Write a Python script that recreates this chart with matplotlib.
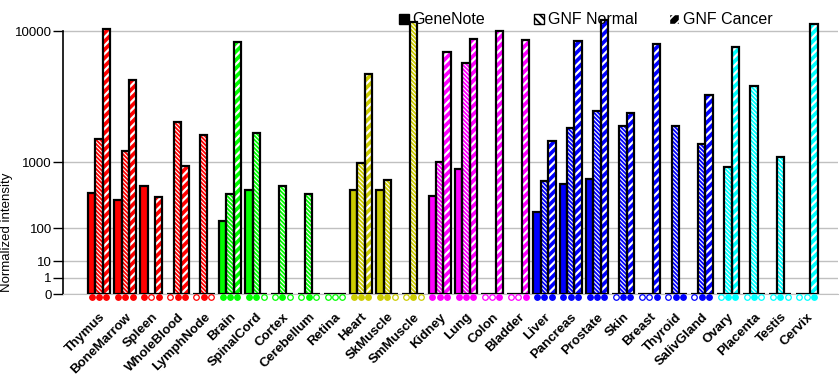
import numpy as np
import matplotlib
matplotlib.use('Agg')
import matplotlib.pyplot as plt
from matplotlib.patches import Patch

plt.rcParams['font.family'] = ['Liberation Sans', 'DejaVu Sans']
plt.rcParams['hatch.linewidth'] = 1.3

# 조직 이름
tissues = ['Thymus', 'BoneMarrow', 'Spleen', 'WholeBlood', 'LymphNode',
           'Brain', 'SpinalCord', 'Cortex', 'Cerebellum', 'Retina',
           'Heart', 'SkMuscle', 'SmMuscle',
           'Kidney', 'Lung', 'Colon', 'Bladder',
           'Liver', 'Pancreas', 'Prostate', 'Skin', 'Breast', 'Thyroid', 'SalivGland',
           'Ovary', 'Placenta', 'Testis', 'Cervix']

tissue_colors = (['#ff0000'] * 5 + ['#00ff00'] * 5 + ['#cccc00'] * 3 +
                 ['#ff00ff'] * 4 + ['#0000ff'] * 7 + ['#00ffff'] * 4)

# 막대 값 (0 = 없음)
genenote = [420, 331, 514, 0, 0, 143, 463, 0, 0, 0, 463, 463, 0, 380, 851,
            0, 0, 210, 557, 645, 0, 0, 0, 0, 0, 0, 0, 0]
gnf_normal = [1710, 1330, 0, 2460, 1890, 398, 1970, 514, 406, 0, 979, 627, 11270,
              1020, 6550, 0, 0, 609, 2180, 2990, 2270, 0, 2270, 1560, 898, 4600, 1140, 0]
gnf_cancer = [10300, 5080, 367, 921, 0, 8750, 0, 0, 0, 0, 5520, 0, 0, 7640, 9090,
              10080, 8940, 1665, 8860, 11500, 2910, 8510, 0, 3970, 8180, 0, 0, 10960]

# 아래 마커 (1 = 채움, 0 = 빈 원)
genenote_call = [1, 1, 1, 0, 0, 1, 1, 0, 0, 0, 1, 1, 0, 1, 1, 0, 0, 1, 1, 1, 0, 0, 0, 0, 0, 0, 0, 0]
normal_call = [1, 1, 0, 1, 1, 1, 1, 1, 1, 0, 1, 1, 1, 1, 1, 0, 0, 1, 1, 1, 1, 0, 1, 1, 1, 1, 1, 0]
cancer_call = [1, 1, 1, 1, 0, 1, 0, 0, 0, 0, 1, 0, 0, 1, 1, 1, 1, 1, 1, 1, 1, 1, 1, 1, 1, 0, 0, 1]

yticks = [0, 1, 10, 100, 1000, 10000]


def fwd(v):
    v = np.asarray(v, dtype=float)
    return np.sign(v) * np.abs(v) ** 0.3


def inv(v):
    v = np.asarray(v, dtype=float)
    return np.sign(v) * np.abs(v) ** (1 / 0.3)


fig = plt.figure(figsize=(8.4, 3.85), dpi=100)
ax = fig.add_axes([63 / 840, 90.7 / 385, 775 / 840, 281.2 / 385])
ax.set_yscale('function', functions=(fwd, inv))

x = np.arange(len(tissues))
w = 0.28
series = [(genenote, None, -w, 0), (gnf_normal, '\\\\\\\\\\\\\\\\', 0, 0.8), (gnf_cancer, '////', w, 1.6)]

for vals, hatch, off, hlw in series:
    if hatch is None:
        ax.bar(x + off, vals, w, color=tissue_colors, linewidth=0, zorder=3)
    else:
        bars = ax.bar(x + off, vals, w, color=tissue_colors, edgecolor='white',
                      hatch=hatch, linewidth=0, zorder=3)
        for b in bars:
            if hasattr(b, 'set_hatch_linewidth'):
                b.set_hatch_linewidth(hlw)
    ax.bar(x + off, vals, w, facecolor='none', edgecolor='black', linewidth=1.6, zorder=4)

# 마커 줄
for calls, off in [(genenote_call, -w), (normal_call, 0), (cancer_call, w)]:
    for i, c in enumerate(calls):
        ax.plot(x[i] + off, -0.011, marker='o', markersize=4.0,
                markeredgecolor=tissue_colors[i], markeredgewidth=0.9,
                markerfacecolor=tissue_colors[i] if c else 'white',
                transform=ax.get_xaxis_transform(), clip_on=False, zorder=5)

ax.set_xlim(-1.374, 28.2)
ax.set_ylim(0, 12500)
ax.set_yticks(yticks)
ax.set_yticklabels([str(t) for t in yticks], fontsize=9.5)
ax.yaxis.set_minor_locator(matplotlib.ticker.NullLocator())
ax.grid(axis='y', color='#c0c0c0', linewidth=1, zorder=0)
ax.set_axisbelow(True)
ax.tick_params(axis='y', length=7, width=1, direction='out', pad=1)
ax.tick_params(axis='x', length=0, pad=12)
ax.set_xticks(x)
ax.set_xticklabels(tissues, rotation=45, ha='right', va='top',
                   rotation_mode='anchor', fontsize=9.5, fontweight='bold')
for s in ['top', 'right']:
    ax.spines[s].set_visible(False)
ax.spines['bottom'].set_color('#c0c0c0')
ax.spines['left'].set_linewidth(1.2)
ax.spines['left'].set_bounds(0, 10000)
ax.set_ylabel('Normalized intensity', fontsize=9.5)
ax.yaxis.set_label_coords(-0.0645, 0.222)

# 범례 (고정 폭 칸)
handles = [Patch(facecolor='black', edgecolor='black'),
           Patch(facecolor='white', edgecolor='black', hatch='\\\\\\\\'),
           Patch(facecolor='black', edgecolor='white', hatch='///')]
labels = ['GeneNote', 'GNF Normal', 'GNF Cancer']
for h, lab, xp in zip(handles, labels, [399, 534, 669]):
    leg = fig.legend([h], [lab], loc='center left', bbox_to_anchor=(xp / 840, 1 - 20 / 385),
                     frameon=False, fontsize=11.5, handlelength=0.65, handleheight=0.65,
                     handletextpad=0.2, borderpad=0, borderaxespad=0)

fig.savefig('out.png', dpi=100)
